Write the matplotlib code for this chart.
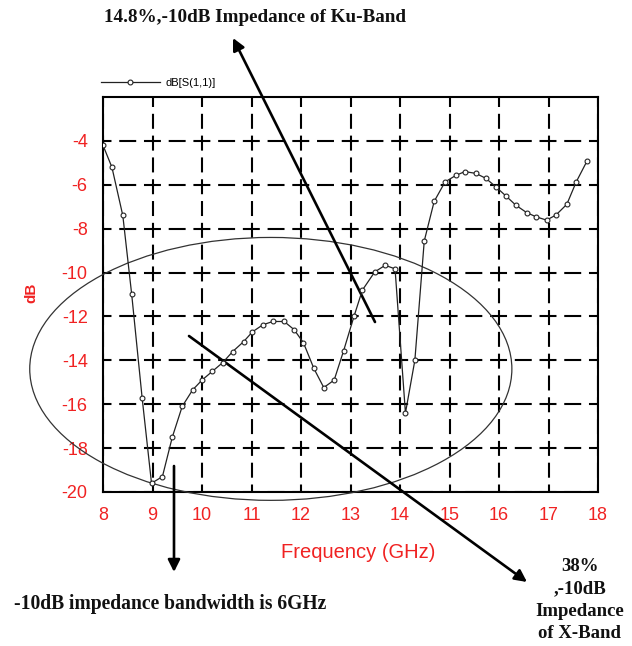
import numpy as np
import matplotlib
matplotlib.use('Agg')
import matplotlib.pyplot as plt
from matplotlib.patches import Ellipse

plt.rcParams['lines.scale_dashes'] = False
plt.rcParams['axes.unicode_minus'] = False

# return loss sweep, read point by point
freq = [8.00, 8.18, 8.40, 8.58, 8.79, 8.98, 9.20, 9.40, 9.60, 9.81,
        10.00, 10.21, 10.42, 10.62, 10.84, 11.02, 11.23, 11.43, 11.66, 11.86,
        12.05, 12.26, 12.46, 12.67, 12.86, 13.07, 13.24, 13.49, 13.70, 13.90,
        14.11, 14.30, 14.49, 14.69, 14.91, 15.13, 15.31, 15.53, 15.73, 15.93,
        16.14, 16.34, 16.56, 16.75, 16.96, 17.15, 17.37, 17.56, 17.78]
s11_db = [-4.2, -5.2, -7.4, -11.0, -15.7, -19.6, -19.3, -17.5, -16.1, -15.35,
          -14.9, -14.5, -14.1, -13.6, -13.15, -12.7, -12.38, -12.23, -12.23, -12.6,
          -13.2, -14.37, -15.24, -14.9, -13.57, -12.0, -10.8, -9.97, -9.67, -9.83,
          -16.4, -14.0, -8.56, -6.76, -5.87, -5.57, -5.4, -5.48, -5.7, -6.08,
          -6.51, -6.93, -7.27, -7.46, -7.61, -7.38, -6.89, -5.87, -4.91]

xticks = list(range(8, 19))
yticks = list(range(-20, -3, 2))

red = '#f02222'
sans = ['Liberation Sans', 'DejaVu Sans']
serif = ['Liberation Serif', 'DejaVu Serif']

W, H = 632, 646
fig = plt.figure(figsize=(W / 100, H / 100), dpi=100)
ax = fig.add_axes([103 / W, 1 - 492 / H, 495 / W, 395 / H])

ax.plot(freq, s11_db, color='#222222', lw=0.9, marker='o', ms=3.5,
        mfc='white', mec='#222222', mew=0.8, label='dB[S(1,1)]', zorder=4)

ax.set_xlim(8, 18)
ax.set_ylim(-20, -2)
ax.set_xticks(xticks)
ax.set_yticks(yticks)
ax.tick_params(length=0, colors=red, labelsize=13)
ax.tick_params(axis='x', pad=11)
ax.tick_params(axis='y', pad=11)
for lab in ax.get_xticklabels() + ax.get_yticklabels():
    lab.set_family(sans)

# dashed grid, one dash centred on every crossing and one mid-cell
ax.grid(axis='x', color='black', lw=1.5, linestyle=(5.4, (10.8, 4.9)))
ax.grid(axis='y', color='black', lw=1.5, linestyle=(6.1, (12.2, 5.6)))
ax.set_axisbelow(True)
for sp in ax.spines.values():
    sp.set_linewidth(1.5)
    sp.set_color('black')

ax.set_xlabel('Frequency (GHz)', color=red, fontsize=14.5, family=sans)
ax.xaxis.set_label_coords(0.516, -0.128)
ax.set_ylabel('dB', color=red, fontsize=11, family=sans, fontweight='bold')
ax.yaxis.set_label_coords(-0.13, 0.504)

ax.legend(loc='center left', bbox_to_anchor=(101 / W, 1 - 83 / H),
          bbox_transform=fig.transFigure, frameon=False,
          handlelength=5.3, handletextpad=0.5, borderpad=0, borderaxespad=0,
          numpoints=1, prop={'family': sans, 'size': 8})

# ellipse marking the X-band region
ax.add_patch(Ellipse((11.39, -14.39), 9.74, 11.98, fill=False,
                     ec='#333333', lw=0.9, clip_on=False, zorder=3))

arrow = dict(arrowstyle='-|>', color='black', lw=1.9, mutation_scale=18,
             shrinkA=0, shrinkB=0)
ax.annotate('', xy=(233, H - 38), xytext=(375, H - 322),
            xycoords='figure pixels', textcoords='figure pixels', arrowprops=arrow)
ax.annotate('', xy=(527, H - 582), xytext=(189, H - 336),
            xycoords='figure pixels', textcoords='figure pixels', arrowprops=arrow)
ax.annotate('', xy=(174, H - 572), xytext=(174, H - 466),
            xycoords='figure pixels', textcoords='figure pixels', arrowprops=arrow)

fig.text(255 / W, 1 - 17 / H, '14.8%,-10dB Impedance of Ku-Band', ha='center',
         va='center', fontsize=13.8, fontweight='bold', family=serif, color='#111111')
fig.text(14 / W, 1 - 604 / H, '-10dB impedance bandwidth is 6GHz', ha='left',
         va='center', fontsize=14.1, fontweight='bold', family=serif, color='#111111')
fig.text(580 / W, 1 - 600 / H, '38%\n,-10dB\nImpedance\nof X-Band', ha='center',
         va='center', fontsize=13.5, fontweight='bold', family=serif, color='#111111',
         linespacing=1.4)

fig.savefig('out.png', dpi=100, facecolor='white')
